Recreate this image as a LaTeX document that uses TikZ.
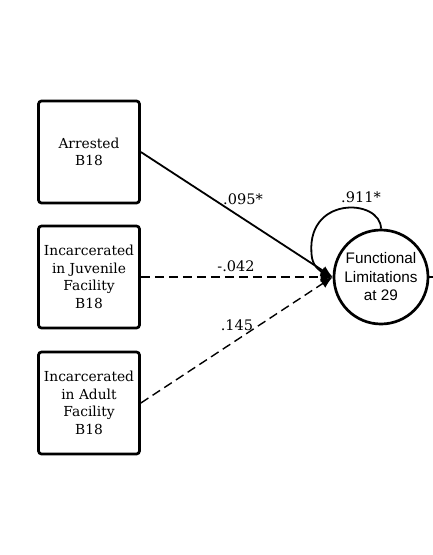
\documentclass[tikz,border=0pt]{standalone}
\usepackage{fontspec}
\setmainfont{DejaVu Serif}
\newfontfamily\circfont{Liberation Sans}
\usetikzlibrary{arrows.meta}
\begin{document}
\begin{tikzpicture}[x=1pt,y=-1pt,
  var/.style={draw,line width=2.7pt,rounded corners=3pt,minimum width=101pt,minimum height=102pt,align=center,inner sep=0pt,font=\fontsize{13.8}{17.5}\selectfont},
  lat/.style={draw,circle,line width=2.7pt,minimum size=94pt,inner sep=0pt,align=center,font=\circfont\fontsize{15.3}{18.5}\selectfont},
  path/.style={line width=1.8pt,-{Latex[length=12pt,width=10pt]}},
  dpath/.style={path,line width=1.4pt,dash pattern=on 9pt off 5pt},
  lbl/.style={font=\fontsize{14.5}{16}\selectfont,inner sep=1pt}]
\useasboundingbox (0,0) rectangle (433,555);
\node[var] (a) at (89,152) {Arrested\\B18};
\node[var] (j) at (89,277) {Incarcerated\\in Juvenile\\Facility\\B18};
\node[var] (d) at (89,403) {Incarcerated\\in Adult\\Facility\\B18};
\node[lat] (f) at (381,277) {Functional\\Limitations\\at 29};
\coordinate (out) at (433,277);
\draw[line width=1.8pt] (f.east) -- (out);
\draw[path] (a.east) -- (f.west);
\draw[dpath] (j.east) -- (f.west);
\draw[dpath] (d.east) -- (f.west);
\draw[path] (f.north) .. controls (381,198) and (303,195) .. (312,258) .. controls (314,268) and (322,272) .. (f.west);
\node[lbl] (l1) at (243,199) {.095*};
\node[lbl] (l2) at (236,266) {-.042};
\node[lbl] (l3) at (237,325) {.145};
\node[lbl] (l4) at (361,197) {.911*};
\end{tikzpicture}
\end{document}
